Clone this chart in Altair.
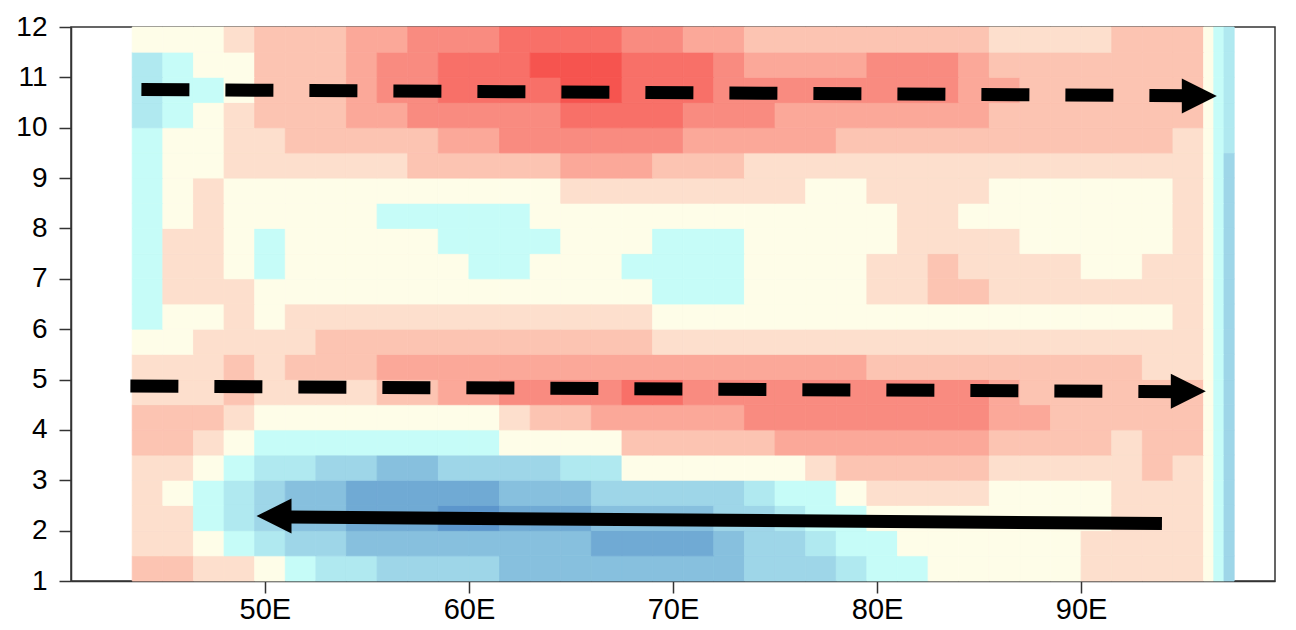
import altair as alt
import pandas as pd

# ---- grid (longitude / month cell edges) ----
lon_edges = [43.5, 45.0, 46.5, 48.0, 49.5, 51.0, 52.5, 54.0, 55.5, 57.0, 58.5, 60.0,
             61.5, 63.0, 64.5, 66.0, 67.5, 69.0, 70.5, 72.0, 73.5, 75.0, 76.5, 78.0,
             79.5, 81.0, 82.5, 84.0, 85.5, 87.0, 88.5, 90.0, 91.5, 93.0, 94.5, 96.0,
             96.5, 97.0, 97.5]
month_edges = [1.0, 1.5, 2.0, 2.5, 3.0, 3.5, 4.0, 4.5, 5.0, 5.5, 6.0, 6.5, 7.0, 7.5,
               8.0, 8.5, 9.0, 9.5, 10.0, 10.5, 11.0, 11.5, 12.0]

# contour level per cell, bottom row (month 1-1.5) first
# f..a = blue levels (f deepest), 0 = near zero, 1..6 = red levels (6 deepest)
rows = [
    "22110 abbcc ccddd ddddd cccba a0000 01111 0ac",
    "110ab ccddd ddddd eeeed ccbaa 00000 01111 0ac",
    "11abc ddeee ffeee ddddc cbaa0 00000 00111 0ac",
    "10abc ddeee eeddd ccccc baa01 11100 00111 0ac",
    "110ab bccdd ccccb b0000 00122 22211 11121 0ac",
    "2210a aaaaa aa000 02222 23333 33322 22122 0ac",
    "22210 00000 00122 33333 44444 44433 22222 0ac",
    "11121 11122 33444 45544 44444 44432 22222 0ac",
    "11121 22233 33333 33333 33332 22222 22211 0ac",
    "00111 12222 22222 22111 11111 11111 11111 0ac",
    "a0010 11111 11111 11000 00000 00000 00001 0ac",
    "a1110 00000 00000 00aaa 00001 12211 11111 0ac",
    "a110a 00000 0aa00 0aaaa 00001 12111 10011 0ac",
    "a110a 00000 aaaa0 00aaa 00000 11110 00001 0ac",
    "a0100 000aa aaa00 00000 00000 11000 00001 0ac",
    "a0100 00000 00001 11111 11001 11100 00001 0ac",
    "a0011 11112 22223 33222 11111 11111 11111 0ac",
    "a0011 22222 33444 44433 33322 22222 22221 0ab",
    "ba012 22334 44445 55544 43333 33322 22222 0ab",
    "baa02 22344 55556 65554 44444 44332 22222 0ab",
    "ba002 22344 55566 65554 33334 44322 22222 0ab",
    "00012 22334 44555 54433 22222 22211 11222 0ab",
]

level_keys = ["f", "e", "d", "c", "b", "a", "0", "1", "2", "3", "4", "5", "6"]
level_colors = ["#5c96cc", "#70aad4", "#87c0de", "#9ed6e8", "#b0e9f0", "#c6fcf8",
                "#fefde8", "#fddfcd", "#fcc4b2", "#fba899", "#f98b80", "#f87068", "#f6544f"]

# ---- arrows (lon, month) ----
dash_top_lon = [43.95, 95.3]
dash_top_m = [10.76, 10.635]
dash_mid_lon = [43.41, 94.95]
dash_mid_m = [4.87, 4.76]
solid_lon = [93.96, 51.2]
solid_m = [2.14, 2.27]
tip_right_lon = [96.65, 96.11]
tip_right_m = [10.63, 4.77]
tip_left_lon = [49.59]
tip_left_m = [2.29]

x_ticks = [50, 60, 70, 80, 90]
y_ticks = [1, 2, 3, 4, 5, 6, 7, 8, 9, 10, 11, 12]

# ---- build tables ----
cells = []
for r, row in enumerate(rows):
    codes = row.replace(" ", "")
    for k, ch in enumerate(codes):
        cells.append({"lon": lon_edges[k], "lon1": lon_edges[k + 1],
                      "m": month_edges[r], "m1": month_edges[r + 1], "level": ch})
cells = pd.DataFrame(cells)

dashed = pd.DataFrame({
    "lon": dash_top_lon + dash_mid_lon,
    "m": dash_top_m + dash_mid_m,
    "arrow": ["top", "top", "mid", "mid"],
    "o": [0, 1, 0, 1],
})
solid = pd.DataFrame({"lon": solid_lon, "m": solid_m, "arrow": ["bot", "bot"], "o": [0, 1]})
tips_r = pd.DataFrame({"lon": tip_right_lon, "m": tip_right_m})
tips_l = pd.DataFrame({"lon": tip_left_lon, "m": tip_left_m})

FONT = "Liberation Sans"
xscale = alt.Scale(domain=[40.5, 99.5], nice=False, zero=False)
yscale = alt.Scale(domain=[1, 12], nice=False, zero=False)
xaxis = alt.Axis(values=x_ticks, labelExpr="datum.value + 'E'", tickSize=12, labelFontSize=29,
                 labelFont=FONT, labelColor="black", domainColor="#333", tickColor="#333",
                 domainWidth=1.5, tickWidth=1.5, labelPadding=2, grid=False, title=None,
                 labelFlush=False)
yaxis = alt.Axis(values=y_ticks, tickSize=12, labelFontSize=28, labelFont=FONT,
                 labelColor="black", domainColor="#333", tickColor="#333", domainWidth=1.5,
                 tickWidth=1.5, labelPadding=12, grid=False, title=None, labelFlush=False)

X = alt.X("lon:Q", scale=xscale, axis=xaxis)
Y = alt.Y("m:Q", scale=yscale, axis=yaxis)

cscale = alt.Scale(domain=level_keys, range=level_colors)

contour = alt.Chart(cells).mark_rect(strokeWidth=0.8).encode(
    x=X, x2="lon1:Q", y=Y, y2="m1:Q",
    color=alt.Color("level:N", scale=cscale, legend=None),
    stroke=alt.Stroke("level:N", scale=cscale, legend=None),
)

dash_lines = alt.Chart(dashed).mark_line(
    color="black", strokeWidth=13, strokeDash=[48, 36], strokeCap="butt"
).encode(x=X, y=Y, detail="arrow:N", order="o:Q")

solid_line = alt.Chart(solid).mark_line(
    color="black", strokeWidth=13, strokeCap="butt"
).encode(x=X, y=Y, detail="arrow:N", order="o:Q")

heads_r = alt.Chart(tips_r).mark_point(
    shape="M0,0L-2,-1L-2,1Z", size=1225, filled=True, color="black", opacity=1, strokeWidth=0
).encode(x=X, y=Y)

heads_l = alt.Chart(tips_l).mark_point(
    shape="M0,0L2,-1L2,1Z", size=1225, filled=True, color="black", opacity=1, strokeWidth=0
).encode(x=X, y=Y)

chart = alt.layer(contour, dash_lines, solid_line, heads_r, heads_l).properties(
    width=1204, height=554,
    autosize=alt.AutoSizeParams(type="none"),
    padding={"left": 63, "top": 19, "right": 13, "bottom": 48},
    background="white",
).configure_view(stroke="#333", strokeWidth=1.5)

chart.save("out.html", embed_options={"renderer": "svg", "actions": False})
